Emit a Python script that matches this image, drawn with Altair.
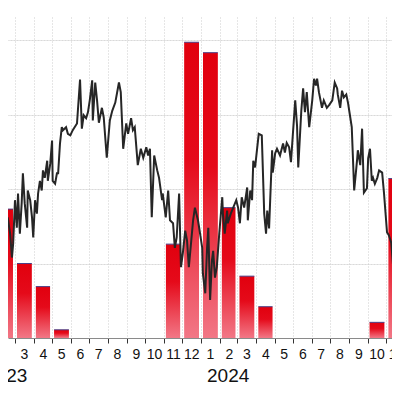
import altair as alt
import pandas as pd

# Monthly bars (first day of month, value)
month_starts = ["2023-02-01", "2023-03-01", "2023-04-01", "2023-05-01", "2023-06-01", "2023-07-01",
                "2023-08-01", "2023-09-01", "2023-10-01", "2023-11-01", "2023-12-01", "2024-01-01",
                "2024-02-01", "2024-03-01", "2024-04-01", "2024-05-01", "2024-06-01", "2024-07-01",
                "2024-08-01", "2024-09-01", "2024-10-01", "2024-11-01"]
month_values = [173, 100, 69, 11, 0, 0, 0, 0, 0, 126, 397, 383,
                175, 83, 42, 0, 0, 0, 0, 0, 21, 214]

# Daily line: days since 2023-01-01 and value
line_days = [34, 39, 41, 44, 47, 51, 54, 56, 59, 62, 64, 67, 70, 72, 75, 79, 80, 84, 87, 89,
             92, 95, 97, 100, 103, 105, 108, 112, 113, 117, 120, 121, 125, 128, 130, 133, 136, 138, 143, 146,
             150, 154, 161, 166, 169, 172, 176, 179, 182, 186, 187, 191, 194, 197, 202, 205, 210, 215, 219, 224,
             230, 233, 237, 242, 245, 250, 253, 256, 261, 266, 270, 275, 278, 281, 284, 288, 293, 296, 301, 302,
             307, 311, 314, 319, 322, 325, 329, 332, 335, 339, 342, 345, 349, 352, 355, 360, 362, 367, 368, 372,
             375, 377, 380, 383, 385, 388, 391, 395, 400, 401, 404, 408, 409, 414, 418, 423, 426, 429, 432, 436,
             441, 442, 446, 449, 451, 454, 457, 460, 465, 469, 472, 474, 477, 482, 483, 487, 490, 495, 500, 503,
             506, 510, 513, 516, 520, 523, 525, 530, 533, 536, 539, 543, 548, 551, 554, 556, 559, 564, 567, 572,
             576, 581, 585, 589, 590, 594, 597, 600, 604, 607, 610, 613, 617, 622, 623, 627, 630, 633, 638, 640,
             643, 646, 648, 651, 655, 658, 663, 666, 671, 674, 678, 681, 686, 689, 692, 697]
line_vals = [-4.0, 0.4, 7.5, 4.8, 6.2, 4.0, 0.8, 2.7, 8.5, 4.8, 9.4, 4.0, 8.1, 12.1, 8.1, 4.8, 9.8, 8.5, 6.2, 3.5,
             8.5, 6.7, 9.4, 11.1, 9.8, 12.5, 11.5, 13.8, 11.1, 13.4, 16.5, 11.1, 10.7, 12.1, 12.1, 16.1, 18.3, 17.9, 18.3, 17.4,
             17.2, 17.9, 18.8, 24.7, 18.1, 19.9, 19.5, 20.3, 21.9, 24.6, 19.2, 24.3, 21.9, 18.9, 20.9, 19.6, 14.2, 19.2, 20.5, 21.6,
             24.3, 23.0, 15.4, 18.8, 17.4, 19.5, 17.9, 18.3, 13.2, 15.4, 14.2, 15.6, 14.5, 15.4, 6.2, 14.5, 12.5, 11.5, 8.5, 9.4,
             6.2, 9.8, 5.8, 5.4, 2.1, 3.5, 9.4, -0.5, 1.3, 4.4, 3.1, -0.5, 3.1, 5.8, 7.5, 5.8, 4.8, 2.1, -1.3, -4.0,
             2.1, 4.8, -4.9, 0.4, 1.7, -1.9, -0.5, 4.0, 8.9, 6.7, 4.0, 7.1, 5.4, 6.7, 7.5, 8.5, 7.5, 5.4, 8.9, 7.5,
             10.2, 5.8, 9.8, 8.5, 13.8, 12.9, 15.2, 17.4, 17.2, 6.7, 4.0, 7.1, 4.7, 15.2, 12.2, 14.8, 15.4, 14.5, 16.1, 14.9,
             16.2, 15.6, 13.6, 17.2, 21.9, 18.5, 12.9, 20.5, 23.5, 20.3, 23.0, 18.3, 21.9, 24.8, 23.9, 24.8, 23.0, 20.9, 21.9, 20.9,
             21.3, 21.9, 24.3, 23.5, 22.7, 20.9, 23.2, 22.3, 22.7, 21.5, 19.9, 18.3, 9.8, 14.1, 15.2, 13.2, 18.1, 9.5, 10.1, 14.1,
             15.4, 11.1, 11.5, 10.7, 11.5, 12.5, 12.2, 9.5, 4.2, 3.8, 2.8, -0.3, 4.7, 8.1, 6.0, 8.5]

year_labels = ["2023", "2024"]
year_dates = ["2023-01-01", "2024-01-01"]

starts = pd.to_datetime(month_starts)
bars = pd.DataFrame({
    "start": starts,
    "end": starts + pd.offsets.MonthBegin(1),
    "value": month_values,
})
line = pd.DataFrame({
    "date": pd.Timestamp("2023-01-01") + pd.to_timedelta(line_days, unit="D"),
    "temp": line_vals,
})
years = pd.DataFrame({"date": pd.to_datetime(year_dates), "label": year_labels})

FONT = "Liberation Sans"
W, H = 384, 321

xscale = alt.Scale(domain=[alt.DateTime(year=2023, month=2, date=17, hours=12),
                           alt.DateTime(year=2024, month=11, date=10, hours=5)])

GRID = "#cdcdcd"
xaxis = alt.Axis(format="%-m", tickCount=alt.TimeIntervalStep(interval="month", step=1),
                 labelOffset=9, labelOverlap=False, labelFlush=False, labelBound=False,
                 grid=True, gridDash=[1, 2], gridColor=GRID,
                 tickSize=5, tickColor="#333333", domainColor="#8a8a8a",
                 labelFontSize=14, labelFont=FONT, labelColor="#111111", labelPadding=4,
                 title=None)

grad = alt.Gradient(gradient="linear",
                    stops=[alt.GradientStop(color="#e1000e", offset=0),
                           alt.GradientStop(color="#e50a1a", offset=0.4),
                           alt.GradientStop(color="#f27786", offset=1)],
                    x1=0, x2=0, y1=0, y2=1)

ybar = alt.Y("value:Q", scale=alt.Scale(domain=[0, 430.9], nice=False),
             axis=alt.Axis(values=[100, 200, 300, 400], labels=False, ticks=False, domain=False,
                           grid=True, gridDash=[1, 2], gridColor=GRID, title=None))

bar_layer = alt.Chart(bars).transform_filter("datum.value > 0").mark_bar(
    color=grad, xOffset=2, x2Offset=-2, clip=True).encode(
    x=alt.X("start:T", scale=xscale, axis=xaxis),
    x2="end:T",
    y=ybar,
    y2=alt.datum(0),
)

top_layer = alt.Chart(bars).transform_filter("datum.value > 0").mark_rule(
    color="#4b3f86", strokeWidth=1, xOffset=2, x2Offset=-2, clip=True).encode(
    x=alt.X("start:T", scale=xscale, axis=xaxis),
    x2="end:T",
    y=ybar,
)

line_layer = alt.Chart(line).mark_line(color="#262626", strokeWidth=2, clip=True).encode(
    x=alt.X("date:T", scale=xscale, axis=xaxis),
    y=alt.Y("temp:Q", scale=alt.Scale(domain=[-10, 33.09], nice=False, zero=False), axis=None),
)

year_layer = alt.Chart(years).mark_text(align="left", baseline="middle", dx=6,
                                         font=FONT, fontSize=19, color="#111111").encode(
    x=alt.X("date:T", scale=xscale, axis=xaxis),
    y=alt.value(H + 38),
    text="label:N",
)

chart = alt.layer(bar_layer, top_layer, line_layer, year_layer).resolve_scale(
    y="independent"
).properties(
    width=W, height=H,
    padding={"left": 0, "top": 9, "right": 0, "bottom": 50},
    autosize=alt.AutoSizeParams(type="none"),
).configure_view(stroke=None)

chart.save("out.html", embed_options={"renderer": "svg", "actions": False})
